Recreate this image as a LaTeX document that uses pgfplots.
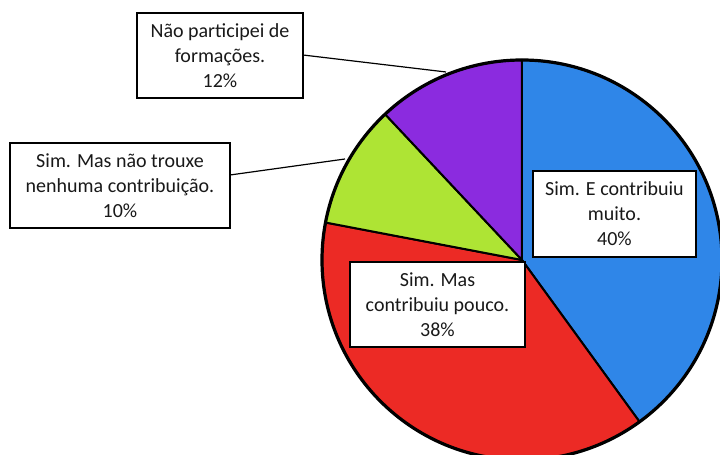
\documentclass[border=0pt]{standalone}
\usepackage{pgfplots}
\usepackage{pgfplotstable}
\pgfplotsset{compat=1.18}
\usepackage{fontspec}
\setmainfont{Carlito}
\definecolor{sliceA}{RGB}{47,134,232}
\definecolor{sliceB}{RGB}{236,42,37}
\definecolor{sliceC}{RGB}{174,228,52}
\definecolor{sliceD}{RGB}{139,43,223}

% shares (percent), clockwise from 12 o'clock
\pgfplotstableread{
idx value
0 40
1 38
2 10
3 12
}\piedata

\pgfplotstablegetelem{0}{value}\of\piedata \edef\vA{\pgfplotsretval}
\pgfplotstablegetelem{1}{value}\of\piedata \edef\vB{\pgfplotsretval}
\pgfplotstablegetelem{2}{value}\of\piedata \edef\vC{\pgfplotsretval}
\pgfplotstablegetelem{3}{value}\of\piedata \edef\vD{\pgfplotsretval}
\pgfmathsetmacro{\aA}{90}
\pgfmathsetmacro{\aB}{\aA-3.6*\vA}
\pgfmathsetmacro{\aC}{\aB-3.6*\vB}
\pgfmathsetmacro{\aD}{\aC-3.6*\vC}
\pgfmathsetmacro{\aE}{\aD-3.6*\vD}

\begin{document}
\begin{tikzpicture}
\begin{axis}[
  scale only axis, width=360pt, height=227.5pt,
  xmin=0, xmax=720, ymin=0, ymax=455,
  hide axis, clip=true,
]
\def\R{100pt}
\filldraw[fill=sliceA, draw=black, line width=1pt, line join=round]
  (axis cs:522,195) -- ++(\aA:\R) arc[start angle=\aA, end angle=\aB, radius=\R] -- cycle;
\filldraw[fill=sliceB, draw=black, line width=1pt, line join=round]
  (axis cs:522,195) -- ++(\aB:\R) arc[start angle=\aB, end angle=\aC, radius=\R] -- cycle;
\filldraw[fill=sliceC, draw=black, line width=1pt, line join=round]
  (axis cs:522,195) -- ++(\aC:\R) arc[start angle=\aC, end angle=\aD, radius=\R] -- cycle;
\filldraw[fill=sliceD, draw=black, line width=1pt, line join=round]
  (axis cs:522,195) -- ++(\aD:\R) arc[start angle=\aD, end angle=\aE, radius=\R] -- cycle;
\draw[black, line width=1.6pt] (axis cs:522,195) circle[radius=\R];

% leader lines
\draw[black, line width=0.6pt] (axis cs:303,400) -- (axis cs:446,383);
\draw[black, line width=0.6pt] (axis cs:230,280) -- (axis cs:345,296);

\tikzset{lbl/.style={draw=black, line width=1pt, fill=white, align=center,
  inner sep=0pt, text=black!90, font=\fontsize{10}{12.5}\selectfont}}
\node[lbl, minimum width=83pt, minimum height=42.5pt] at (axis cs:220,399.5)
  {Não participei de\\formações.\\12\%};
\node[lbl, minimum width=110pt, minimum height=42.5pt] at (axis cs:120,269.5)
  {Sim. Mas não trouxe\\nenhuma contribuição.\\10\%};
\node[lbl, minimum width=81.5pt, minimum height=43pt] at (axis cs:614.5,241)
  {Sim. E contribuiu\\muito.\\40\%};
\node[lbl, minimum width=87.5pt, minimum height=42.5pt] at (axis cs:437.5,150.5)
  {Sim. Mas\\contribuiu pouco.\\38\%};
\end{axis}
\pgfresetboundingbox
\path[use as bounding box] (current axis.south west) rectangle (current axis.north east);
\end{tikzpicture}
\end{document}
